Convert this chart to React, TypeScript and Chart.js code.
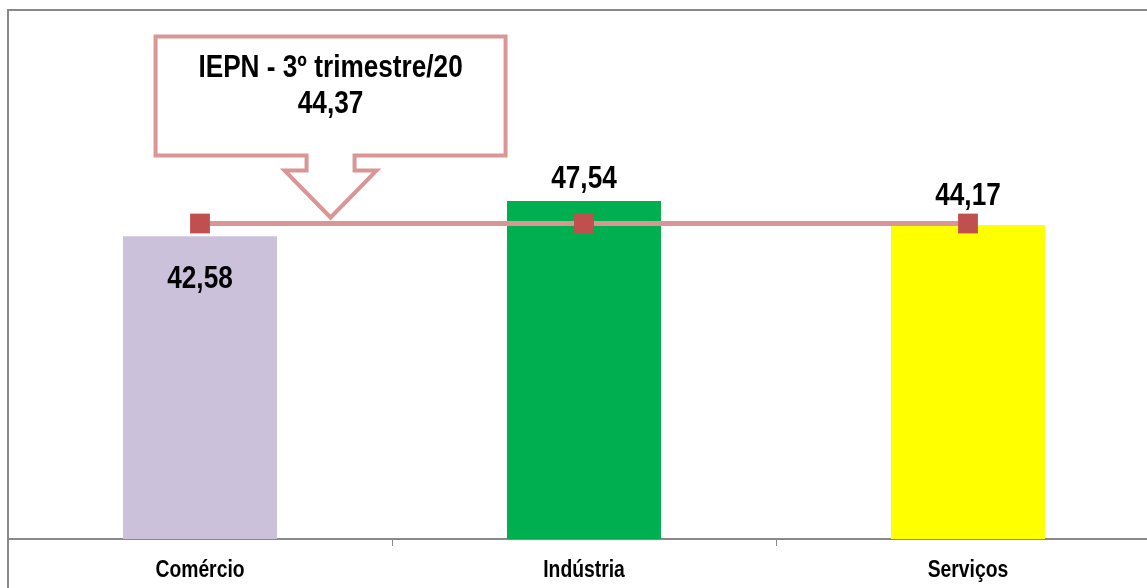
import React, { useEffect, useRef } from "react";
import { Chart, registerables } from "chart.js";

Chart.register(...registerables);

const categories = ["Comércio", "Indústria", "Serviços"];
const sectorValues = [42.58, 47.54, 44.17];
const iepnValue = 44.37;
const barColors = ["#CCC1DA", "#00B050", "#FFFF00"];
const calloutTitle = "IEPN - 3º trimestre/20";
const labelOffsets = [52, -13, -20];

const FONT = "'Liberation Sans', Arial, sans-serif";
const fmt = (v: number) => v.toFixed(2).replace(".", ",");

function narrowText(ctx: CanvasRenderingContext2D, text: string, x: number, y: number, size: number, sx: number) {
  ctx.save();
  ctx.translate(x, y);
  ctx.scale(sx, 1);
  ctx.font = `bold ${size}px ${FONT}`;
  ctx.textAlign = "center";
  ctx.textBaseline = "alphabetic";
  ctx.fillStyle = "#000";
  ctx.fillText(text, 0, 0);
  ctx.restore();
}

const decorPlugin = {
  id: "decor",
  beforeDraw(chart: any) {
    const { ctx, scales } = chart;
    ctx.save();
    ctx.fillStyle = "#ffffff";
    ctx.fillRect(0, 0, chart.width, chart.height);
    ctx.strokeStyle = "#898989";
    ctx.lineWidth = 2;
    ctx.beginPath();
    ctx.moveTo(8, chart.height);
    ctx.lineTo(8, 10);
    ctx.lineTo(chart.width, 10);
    ctx.stroke();
    const y0 = scales.y.getPixelForValue(0);
    ctx.beginPath();
    ctx.moveTo(8, y0);
    ctx.lineTo(chart.width, y0);
    ctx.stroke();
    ctx.lineWidth = 1;
    for (let i = 1; i < categories.length; i++) {
      const x = Math.round((scales.x.getPixelForValue(i - 1) + scales.x.getPixelForValue(i)) / 2) + 0.5;
      ctx.beginPath();
      ctx.moveTo(x, y0);
      ctx.lineTo(x, y0 + 7);
      ctx.stroke();
    }
    ctx.restore();
  },
  afterDatasetsDraw(chart: any) {
    const { ctx, scales } = chart;
    ctx.save();
    const meta = chart.getDatasetMeta(0);
    meta.data.forEach((bar: any, i: number) => {
      narrowText(ctx, fmt(sectorValues[i]), bar.x, bar.y + labelOffsets[i], 31, 0.845);
    });
    const y0 = scales.y.getPixelForValue(0);
    categories.forEach((c, i) => {
      narrowText(ctx, c, scales.x.getPixelForValue(i), y0 + 38, 23, 0.84);
    });
    // callout
    const x0 = scales.x.getPixelForValue(0);
    const x1 = scales.x.getPixelForValue(1);
    const tipX = x0 + (x1 - x0) * 0.34;
    const tipY = scales.y.getPixelForValue(iepnValue) - 6;
    const bl = tipX - 175, br = tipX + 175, bt = tipY - 181, bb = tipY - 62;
    const stemHalf = 24, wingHalf = 46, stemBottom = tipY - 47;
    ctx.beginPath();
    ctx.moveTo(bl, bt);
    ctx.lineTo(br, bt);
    ctx.lineTo(br, bb);
    ctx.lineTo(tipX + stemHalf, bb);
    ctx.lineTo(tipX + stemHalf, stemBottom);
    ctx.lineTo(tipX + wingHalf, stemBottom);
    ctx.lineTo(tipX, tipY);
    ctx.lineTo(tipX - wingHalf, stemBottom);
    ctx.lineTo(tipX - stemHalf, stemBottom);
    ctx.lineTo(tipX - stemHalf, bb);
    ctx.lineTo(bl, bb);
    ctx.closePath();
    ctx.fillStyle = "#ffffff";
    ctx.fill();
    ctx.strokeStyle = "#D99694";
    ctx.lineWidth = 4;
    ctx.lineJoin = "miter";
    ctx.stroke();
    narrowText(ctx, calloutTitle, tipX, bt + 40.5, 31, 0.845);
    narrowText(ctx, fmt(iepnValue), tipX, bt + 76.5, 31, 0.845);
    ctx.restore();
  },
};

export default function App() {
  const ref = useRef<HTMLCanvasElement>(null);
  useEffect(() => {
    document.body.style.margin = "0";
    const chart = new Chart(ref.current!, {
      type: "bar",
      data: {
        labels: categories,
        datasets: [
          {
            type: "bar",
            data: sectorValues,
            backgroundColor: barColors,
            barPercentage: 0.401,
            categoryPercentage: 1,
            order: 2,
          },
          {
            type: "line",
            data: categories.map(() => iepnValue),
            borderColor: "#D99694",
            borderWidth: 5,
            pointStyle: "rect",
            pointRadius: 14,
            pointBackgroundColor: "#C0504D",
            pointBorderColor: "#C0504D",
            pointBorderWidth: 0,
            order: 1,
          } as any,
        ],
      },
      options: {
        responsive: false,
        animation: false,
        layout: { autoPadding: false, padding: { left: 8, right: 0, top: 10, bottom: 49 } },
        plugins: { legend: { display: false }, tooltip: { enabled: false } },
        scales: {
          x: { display: false, offset: true },
          y: { display: false, min: 0, max: 74.4 },
        },
      },
      plugins: [decorPlugin],
    });
    return () => chart.destroy();
  }, []);
  return (
    <div style={{ position: "absolute", left: 0, top: 0, width: 1147, height: 588, overflow: "hidden", background: "#fff" }}>
      <canvas ref={ref} width={1160} height={588} style={{ display: "block" }} />
    </div>
  );
}
